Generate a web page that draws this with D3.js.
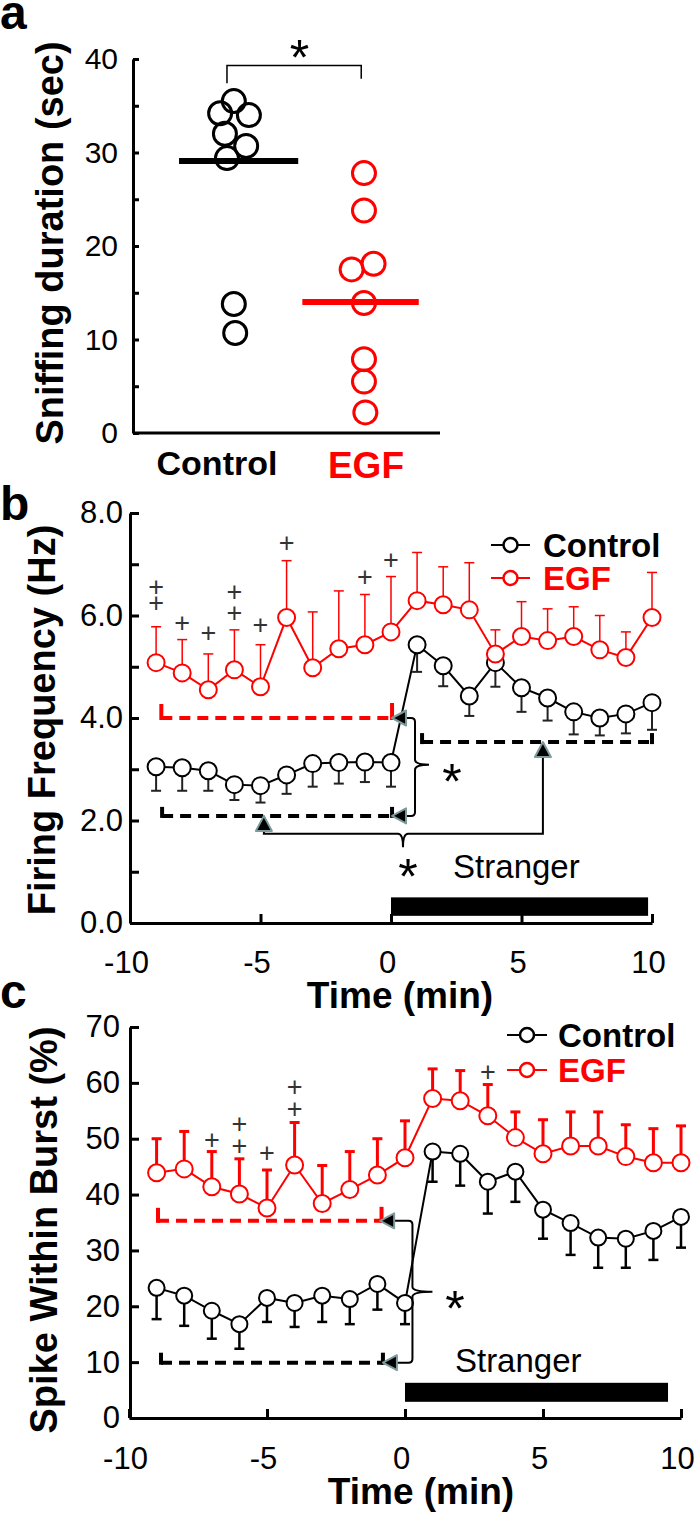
<!DOCTYPE html>
<html><head><meta charset="utf-8">
<script src="https://cdn.jsdelivr.net/npm/d3@7"></script>
<style>body{margin:0;background:#fff}svg{display:block}</style>
</head><body><svg id="chart" width="695" height="1513"></svg>
<script>
// ---------- DATA ----------
// Panel a
const aCategories = ["Control", "EGF"];
const aControl = [35.5, 34.2, 34.0, 32.0, 30.7, 29.4, 13.8, 10.7];
const aControlJitter = [0.05, -0.05, 0.16, -0.015, 0.14, 0, 0.05, 0.06];
const aEGF = [27.8, 23.8, 17.5, 18.1, 13.9, 7.9, 5.5, 2.2];
const aEGFJitter = [0, 0, -0.09, 0.07, 0, 0, 0, 0.01];
const aMeans = [29.1, 14.0];
const aYTicks = [0, 5, 10, 15, 20, 25, 30, 35, 40];

// Panels b and c share time points (min)
const times = [-9, -8, -7, -6, -5, -4, -3, -2, -1, 0, 1, 2, 3, 4, 5, 6, 7, 8, 9, 10];
const xTicks = [-10, -5, 0, 5, 10];

// Panel b: firing frequency (Hz)
const bControl = [3.05, 3.03, 2.97, 2.70, 2.68, 2.89, 3.11, 3.13, 3.14, 3.13, 5.43, 5.02, 4.43, 5.08, 4.59, 4.39, 4.12, 4.00, 4.08, 4.30];
const bControlErr = [0.47, 0.45, 0.39, 0.30, 0.33, 0.37, 0.45, 0.41, 0.39, 0.47, 0.53, 0.40, 0.39, 0.47, 0.47, 0.44, 0.44, 0.34, 0.38, 0.53];
const bEGF = [5.08, 4.88, 4.55, 4.94, 4.61, 5.96, 4.98, 5.35, 5.43, 5.68, 6.29, 6.21, 6.11, 5.25, 5.59, 5.51, 5.59, 5.33, 5.18, 5.96];
const bEGFErr = [0.70, 0.65, 0.70, 0.78, 0.82, 1.11, 1.09, 1.13, 0.98, 1.08, 0.94, 0.74, 0.92, 0.47, 0.68, 0.62, 0.58, 0.67, 0.50, 0.88];
const bPlusT = [-9, -9, -8, -7, -6, -6, -5, -4, -1, 0];
const bPlusV = [6.56, 6.25, 5.86, 5.66, 6.46, 6.05, 5.82, 7.42, 6.76, 7.09];
const bYTicks = [0, 1, 2, 3, 4, 5, 6, 7, 8];

// Panel c: spike within burst (%)
const cControl = [23.3, 21.9, 19.2, 16.8, 21.5, 20.6, 21.9, 21.3, 24.0, 20.6, 47.7, 47.3, 42.3, 44.1, 37.3, 34.9, 32.3, 32.1, 33.5, 36.0];
const cControlErr = [5.6, 5.4, 5.0, 4.4, 4.3, 4.3, 4.7, 4.5, 4.6, 3.8, 5.4, 5.7, 5.7, 5.4, 5.2, 5.7, 5.4, 5.2, 5.2, 5.5];
const cEGF = [43.9, 44.6, 41.4, 40.1, 37.6, 45.3, 38.4, 40.9, 43.5, 46.6, 57.2, 56.8, 54.1, 50.2, 47.3, 48.7, 48.7, 46.8, 45.7, 45.7];
const cEGFErr = [6.1, 6.7, 6.3, 6.3, 6.8, 7.6, 6.8, 6.8, 6.5, 6.6, 5.3, 5.4, 5.6, 4.6, 6.1, 6.1, 6.1, 5.7, 6.1, 6.6];
const cPlusT = [-7, -6, -6, -5, -4, -4, 3];
const cPlusV = [49.8, 52.7, 48.7, 47.5, 59.3, 55.4, 62.0];
const cYTicks = [0, 10, 20, 30, 40, 50, 60, 70];

const legendLabels = ["Control", "EGF"];

// ---------- STYLE ----------
const FONT = '"Liberation Sans", Arial, Helvetica, sans-serif';
const RED = "#ff0000";
const TRI_STROKE = "#7d9a9c";
const svg = d3.select("#chart");

function txt(g, x, y, s, o = {}) {
  const t = g.append("text").attr("x", x).attr("y", y).text(s)
    .attr("font-family", FONT).attr("font-size", o.fs || 31)
    .attr("font-weight", o.fw || "normal").attr("fill", o.fill || "#000")
    .attr("text-anchor", o.anchor || "start");
  if (o.dy) t.attr("dy", o.dy);
  if (o.rot) t.attr("transform", `rotate(-90,${x},${y})`);
  return t;
}
function styleAxis(g, fs) {
  g.select(".domain").attr("stroke", "#000").attr("stroke-width", 3);
  g.selectAll(".tick line").attr("stroke", "#000").attr("stroke-width", 3);
  g.selectAll(".tick text").attr("font-family", FONT).attr("font-size", fs).attr("fill", "#000");
}
function triLeft(g, x, y) {
  g.append("path").attr("d", `M${x},${y}L${x + 14},${y - 7.5}L${x + 14},${y + 7.5}Z`)
    .attr("fill", "#000").attr("stroke", TRI_STROKE).attr("stroke-width", 2).attr("stroke-linejoin", "round");
}
function triUp(g, x, y) {
  g.append("path").attr("d", `M${x},${y}L${x + 8},${y + 15}L${x - 8},${y + 15}Z`)
    .attr("fill", "#000").attr("stroke", TRI_STROKE).attr("stroke-width", 2).attr("stroke-linejoin", "round");
}
function dashedBracket(g, x0, x1, y, color, hl, hr) {
  g.append("line").attr("x1", x0).attr("x2", x1).attr("y1", y).attr("y2", y)
    .attr("stroke", color).attr("stroke-width", 4).attr("stroke-dasharray", "11,7");
  g.append("line").attr("x1", x0).attr("x2", x0).attr("y1", y + 2).attr("y2", y - hl)
    .attr("stroke", color).attr("stroke-width", 4);
  g.append("line").attr("x1", x1).attr("x2", x1).attr("y1", y + 2).attr("y2", y - hr)
    .attr("stroke", color).attr("stroke-width", 4);
}
function star(g, x, y) { txt(g, x, y, "*", { fs: 50, anchor: "middle", dy: "0.58em" }); }
function plus(g, x, y) { txt(g, x, y, "+", { fs: 27, anchor: "middle", dy: "0.35em", fill: "#333" }); }

function series(g, x, y, vals, errs, color, dir, cfg) {
  const eg = g.append("g").attr("stroke", cfg.ec || color).attr("stroke-width", cfg.ew);
  const d = vals.map((v, i) => ({ t: times[i], v, e: errs[i] }));
  eg.selectAll(".stem").data(d).join("line")
    .attr("x1", p => x(p.t)).attr("x2", p => x(p.t))
    .attr("y1", p => y(p.v)).attr("y2", p => y(p.v + dir * p.e));
  eg.selectAll(".cap").data(d).join("line").attr("class", "cap")
    .attr("x1", p => x(p.t) - 5).attr("x2", p => x(p.t) + 5)
    .attr("y1", p => y(p.v + dir * p.e)).attr("y2", p => y(p.v + dir * p.e));
  g.append("path").datum(d)
    .attr("d", d3.line().x(p => x(p.t)).y(p => y(p.v)))
    .attr("fill", "none").attr("stroke", color).attr("stroke-width", cfg.lw);
  g.append("g").selectAll("circle").data(d).join("circle")
    .attr("cx", p => x(p.t)).attr("cy", p => y(p.v)).attr("r", cfg.r)
    .attr("fill", "#fff").attr("stroke", color).attr("stroke-width", cfg.sw);
}
function legend(g, x0, x1, yPos, tx, fs) {
  const colors = ["#000", RED];
  legendLabels.forEach((lab, i) => {
    const yy = yPos[i];
    g.append("line").attr("x1", x0).attr("x2", x1).attr("y1", yy).attr("y2", yy)
      .attr("stroke", colors[i]).attr("stroke-width", 2);
    g.append("circle").attr("cx", (x0 + x1) / 2).attr("cy", yy).attr("r", 7)
      .attr("fill", "#fff").attr("stroke", colors[i]).attr("stroke-width", 2.5);
    txt(g, tx, yy, lab, { fs, fw: "bold", fill: colors[i], dy: "0.36em" });
  });
}

// ---------- PANEL A ----------
{
  const g = svg.append("g");
  const x = d3.scaleLinear().domain([0.314, 2.555]).range([133, 440]);
  const y = d3.scaleLinear().domain([0, 40]).range([433, 59]);
  txt(g, 0, 29, "a", { fs: 48, fw: "bold" });
  const ya = g.append("g").attr("transform", "translate(133,0)")
    .call(d3.axisLeft(y).tickValues(aYTicks).tickSizeInner(-6).tickSizeOuter(0).tickPadding(15)
      .tickFormat(d => d % 10 === 0 ? String(d) : ""));
  styleAxis(ya, 30);
  g.append("line").attr("x1", 133).attr("x2", 440).attr("y1", 433).attr("y2", 433)
    .attr("stroke", "#000").attr("stroke-width", 3);
  txt(g, 63, 243, "Sniffing duration (sec)", { fs: 38, fw: "bold", anchor: "middle", rot: true });
  const groups = [
    { vals: aControl, jit: aControlJitter, color: "#000", pos: 1, ext: [-0.35, 0.52] },
    { vals: aEGF, jit: aEGFJitter, color: RED, pos: 2, ext: [-0.45, 0.4] }
  ];
  groups.forEach((gr, k) => {
    g.append("g").selectAll("circle").data(gr.vals).join("circle")
      .attr("cx", (v, i) => x(gr.pos + gr.jit[i])).attr("cy", v => y(v)).attr("r", 11.5)
      .attr("fill", "none").attr("stroke", gr.color).attr("stroke-width", 3);
    g.append("line").attr("x1", x(gr.pos + gr.ext[0])).attr("x2", x(gr.pos + gr.ext[1]))
      .attr("y1", y(aMeans[k])).attr("y2", y(aMeans[k])).attr("stroke", gr.color).attr("stroke-width", 6);
  });
  txt(g, x(1) - 10, 475, aCategories[0], { fs: 34, fw: "bold", anchor: "middle" });
  txt(g, x(2) + 2, 478, aCategories[1], { fs: 37, fw: "bold", anchor: "middle", fill: RED });
  // significance bracket
  g.append("path").attr("d", `M${x(1)},${y(37.4)}V${y(39.3)}H${x(1.98)}V${y(37.9)}`)
    .attr("fill", "none").attr("stroke", "#000").attr("stroke-width", 1.5);
  star(g, x(1.53), 46);
}

// ---------- PANEL B ----------
{
  const g = svg.append("g");
  const x = d3.scaleLinear().domain([-10, 10]).range([130, 652]);
  const y = d3.scaleLinear().domain([0, 8]).range([923, 513]);
  txt(g, 0, 520, "b", { fs: 48, fw: "bold" });
  const ya = g.append("g").attr("transform", "translate(130,0)")
    .call(d3.axisLeft(y).tickValues(bYTicks).tickSizeInner(-9).tickSizeOuter(0).tickPadding(7)
      .tickFormat(d => d % 2 === 0 ? d.toFixed(1) : ""));
  styleAxis(ya, 31);
  const xa = g.append("g").attr("transform", "translate(0,923)")
    .call(d3.axisBottom(x).tickValues(xTicks).tickSizeInner(-9).tickSizeOuter(0).tickPadding(28)
      .tickFormat(d => String(d)));
  styleAxis(xa, 31);
  xa.selectAll(".tick text").attr("dx", -4);
  txt(g, 55, 720, "Firing Frequency (Hz)", { fs: 38, fw: "bold", anchor: "middle", rot: true });
  txt(g, 400, 1008, "Time (min)", { fs: 37, fw: "bold", anchor: "middle" });

  // stranger bar
  g.append("rect").attr("x", x(0)).attr("y", y(0.5)).attr("width", x(9.85) - x(0)).attr("height", y(0.14) - y(0.5))
    .attr("fill", "#000");
  txt(g, x(2.38), y(0.88), "Stranger", { fs: 33 });

  // annotations
  const an = g.append("g");
  dashedBracket(an, x(-8.8), x(0.04), y(4.0), RED, 14, 15);
  dashedBracket(an, x(-8.77), x(0.04), y(2.09), "#000", 9, 9);
  dashedBracket(an, x(1.19), x(10), y(3.53), "#000", 9, 9);
  const cx = x(0.92), ty = y(3.09), y1 = y(4.0), y2 = y(2.09);
  an.append("path").attr("d",
    `M${x(0.04) + 12},${y1}H${cx - 4}Q${cx},${y1} ${cx},${y1 + 4}V${ty - 5}Q${cx},${ty} ${cx + 14},${ty}` +
    `Q${cx},${ty} ${cx},${ty + 5}V${y2 - 4}Q${cx},${y2} ${cx - 4},${y2}H${x(0.04) + 12}`)
    .attr("fill", "none").attr("stroke", "#000").attr("stroke-width", 2);
  star(an, x(2.34), y(2.99));
  const by = y(1.74), bx = x(0.46);
  an.append("path").attr("d",
    `M${x(-4.87)},${y(2.09) + 14}V${by}H${bx - 5}Q${bx},${by} ${bx},${y(1.48)}Q${bx},${by} ${bx + 5},${by}H${x(5.82)}V${y(3.53) + 16}`)
    .attr("fill", "none").attr("stroke", "#000").attr("stroke-width", 2);
  star(an, x(0.65), y(1.13));

  series(g, x, y, bControl, bControlErr, "#000", -1, { ew: 2, lw: 2, r: 8.5, sw: 2, ec: "#222" });
  series(g, x, y, bEGF, bEGFErr, RED, 1, { ew: 1.5, lw: 2, r: 8.5, sw: 2 });

  triLeft(an.raise(), x(0.04), y(4.0));
  triLeft(an, x(0.04), y(2.09));
  triUp(an, x(-4.87), y(2.09));
  triUp(an, x(5.82), y(3.53));

  const pg = g.append("g");
  bPlusT.forEach((t, i) => plus(pg, x(t), y(bPlusV[i])));
  legend(g, 491, 530, [545, 578], 543, 33);
}

// ---------- PANEL C ----------
{
  const g = svg.append("g");
  const x = d3.scaleLinear().domain([-10, 10]).range([129, 681]);
  const y = d3.scaleLinear().domain([0, 70]).range([1418, 1027]);
  txt(g, 0, 1008, "c", { fs: 48, fw: "bold" });
  const ya = g.append("g").attr("transform", "translate(130,0)")
    .call(d3.axisLeft(y).tickValues(cYTicks).tickSizeInner(-9).tickSizeOuter(0).tickPadding(10)
      .tickFormat(d => String(d)));
  styleAxis(ya, 31);
  const xa = g.append("g").attr("transform", "translate(0,1418)")
    .call(d3.axisBottom(x).tickValues(xTicks).tickSizeInner(-9).tickSizeOuter(0).tickPadding(29)
      .tickFormat(d => String(d)));
  styleAxis(xa, 31);
  xa.selectAll(".tick text").attr("dx", -4);
  txt(g, 57, 1230, "Spike Within Burst (%)", { fs: 38, fw: "bold", anchor: "middle", rot: true });
  txt(g, 421, 1504, "Time (min)", { fs: 37, fw: "bold", anchor: "middle" });

  g.append("rect").attr("x", x(0)).attr("y", y(6.3)).attr("width", x(9.53) - x(0)).attr("height", y(2.9) - y(6.3))
    .attr("fill", "#000");
  txt(g, x(1.81), y(8.2), "Stranger", { fs: 33 });

  const an = g.append("g");
  dashedBracket(an, x(-8.95), x(-0.85), y(35.3), RED, 13, 14);
  dashedBracket(an, x(-8.84), x(-0.8), y(9.9), "#000", 10, 10);
  const cx = x(0.27), ty = y(22.6), y1 = y(35.3), y2 = y(9.9);
  an.append("path").attr("d",
    `M${x(-0.9) + 12},${y1}H${cx - 4}Q${cx},${y1} ${cx},${y1 + 4}V${ty - 5}Q${cx},${ty} ${cx + 20},${ty}` +
    `Q${cx},${ty} ${cx},${ty + 5}V${y2 - 4}Q${cx},${y2} ${cx - 4},${y2}H${x(-0.8) + 12}`)
    .attr("fill", "none").attr("stroke", "#000").attr("stroke-width", 2);
  star(an, x(1.81), y(21.7));

  series(g, x, y, cControl, cControlErr, "#000", -1, { ew: 2.5, lw: 2, r: 8, sw: 2 });
  series(g, x, y, cEGF, cEGFErr, RED, 1, { ew: 3, lw: 2, r: 8.5, sw: 2 });

  triLeft(an.raise(), x(-0.9), y(35.3));
  triLeft(an, x(-0.8), y(9.9));

  const pg = g.append("g");
  cPlusT.forEach((t, i) => plus(pg, x(t), y(cPlusV[i])));
  legend(g, 507, 547, [1035, 1070], 558, 33);
}
</script></body></html>
